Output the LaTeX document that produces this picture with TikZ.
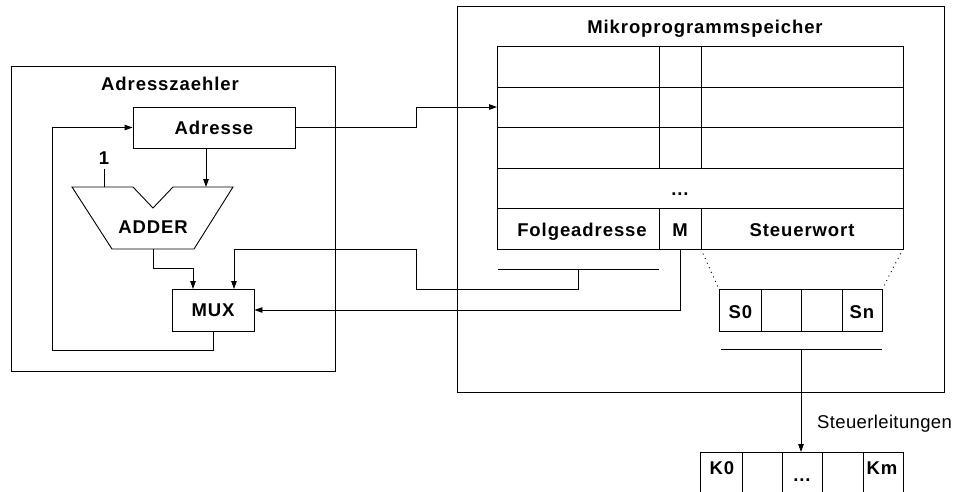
\documentclass[tikz,border=0pt]{standalone}
\usepackage{fontspec}
\setmainfont{Liberation Sans}
\newfontfamily\lblfont[LetterSpace=5]{Liberation Sans}
\newfontfamily\plainfont[LetterSpace=2]{Liberation Sans}
\usetikzlibrary{arrows.meta,calc}
\begin{document}
\begin{tikzpicture}[x=1pt,y=-1pt,
  line width=0.9pt,
  arr/.style={-{Triangle[length=8pt,width=5.5pt]}},
  tx/.style={font=\lblfont\fontsize{18.5}{22}\selectfont\bfseries, inner sep=0pt, text height=13.2pt, text depth=0pt},
  txr/.style={font=\plainfont\fontsize{18.5}{22}\selectfont, inner sep=0pt, text height=13.2pt, text depth=0pt},
  box/.style={draw, rectangle, inner sep=0pt},
  dots/.style={dash pattern=on 1pt off 4pt},
]
\useasboundingbox (0,0) rectangle (958,491);

% outer boxes
\node[box, minimum width=324pt, minimum height=305pt] (az) at (173,218.5) {};
\node[box, minimum width=487pt, minimum height=386pt] (mp) at (700.5,199) {};
\node[tx] (aztitle) at (170,84) {Adresszaehler};
\node[tx] (mptitle) at (705,27) {Mikroprogrammspeicher};

% Adresse and MUX
\node[box, tx, minimum width=162pt, minimum height=41pt] (adr) at (214,127.5) {Adresse};
\node[box, tx, minimum width=82pt, minimum height=42pt] (mux) at (213,310) {MUX};

% ADDER
\draw (72,187) -- (133,187) -- (153,208) -- (173,187) -- (233,187) -- (194,249) -- (112,249) -- cycle;
\node[tx] (adder) at (153,226.7) {ADDER};
\coordinate (addinA) at (206,187);
\coordinate (addinB) at (104,187);
\coordinate (addout) at (153,249);
\node[tx] (one) at (104,158) {1};
\draw (addinB) -- (104,169);

% micro-program table
\coordinate (tl) at (497,46);
\coordinate (tr) at (903,46);
\coordinate (bl) at (497,249);
\coordinate (br) at (903,249);
\draw (tl) rectangle (br);
\foreach \y in {87,127,168,208} \draw (497,\y) -- (903,\y);
\foreach \x in {659,701} {\draw (\x,46) -- (\x,168); \draw (\x,208) -- (\x,249);}
\node[tx] (tdots) at (680,189) {...};
\node[tx] (folge) at (582,230) {Folgeadresse};
\node[tx] (mcell) at (680,230) {M};
\node[tx] (steuerw) at (802,230) {Steuerwort};
\coordinate (tblin) at (497,107);

% Steuerwort expansion
\node[box, minimum width=163pt, minimum height=42pt] (sbox) at (800.5,310) {};
\foreach \x in {761,801,842} \draw (\x,289) -- (\x,331);
\node[tx] (s0) at (740.5,311.7) {S0};
\node[tx] (sn) at (862,311.7) {Sn};
\draw[dots] (701,249) -- (sbox.north west);
\draw[dots] (br) -- (sbox.north east);

% buses
\coordinate (fbusL) at (498,269);
\coordinate (fbusR) at (659,269);
\draw (fbusL) -- (fbusR);
\coordinate (sbusL) at (721,349);
\coordinate (sbusR) at (882,349);
\draw (sbusL) -- (sbusR);

% K box
\draw (700,452) -- (903,452);
\foreach \x in {700,742,782,822,863,903} \draw (\x,452) -- (\x,500);
\node[tx] (k0) at (722,468.3) {K0};
\node[tx] (kdots) at (802,475) {...};
\node[tx] (km) at (882,468.3) {Km};
\coordinate (kin) at (801,452);
\node[txr, anchor=west] (sl) at (816.7,422) {Steuerleitungen};

% connectors
\draw[arr] (adr.south -| addinA) -- (addinA);
\draw[arr] (adr.east) -- (416,127.5) |- (tblin);
\draw[arr] (mux.south) -- (213,350) -| (52,127.5) -- (adr.west);
\draw[arr] (addout) -- (153,268) -| (193,289);
\draw[arr] (578,269) -- (578,289) -| (416,249) -| (234,289);
\draw[arr] (680,249) |- (mux.east);
\draw[arr] (sbusL -| kin) -- (kin);
\end{tikzpicture}
\end{document}
